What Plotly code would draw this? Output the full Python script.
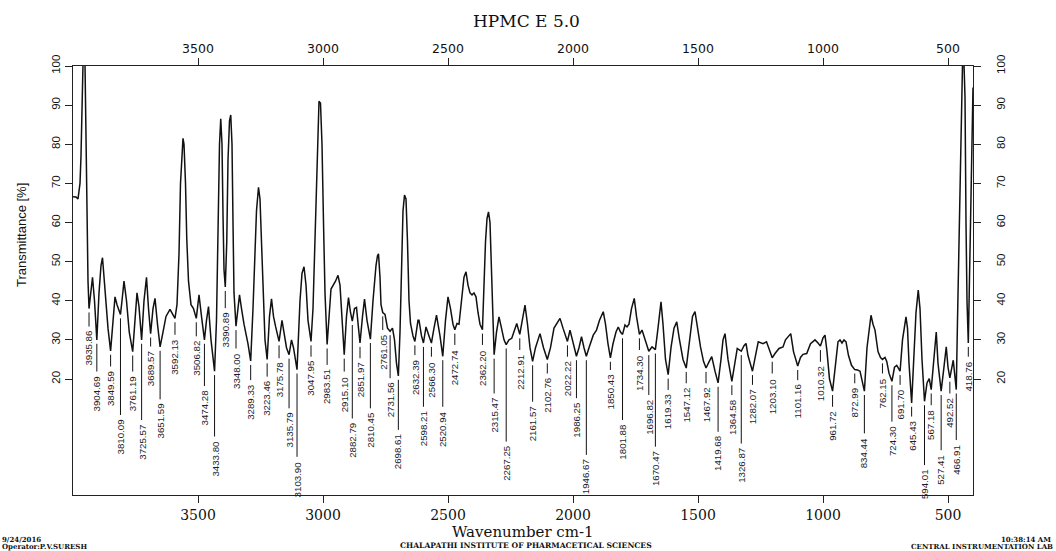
import plotly.graph_objects as go
import numpy as np

# ---------------- data ----------------
spec_wn = [4000, 3988, 3980, 3972, 3968, 3964, 3960, 3952, 3948, 3944, 3940, 3935.86, 3930, 3922, 3914,
           3904.69, 3896, 3888, 3882, 3876, 3868, 3860, 3849.59, 3840, 3832, 3824, 3816, 3810.09, 3804,
           3796, 3786, 3775, 3761.19, 3752, 3744, 3736, 3725.57, 3716, 3706, 3698, 3689.57, 3680, 3672,
           3662, 3651.59, 3640, 3628, 3612, 3600, 3592.13, 3584, 3576, 3570, 3564, 3560, 3556, 3550,
           3545, 3538, 3528, 3518, 3506.82, 3496, 3486, 3474.28, 3466, 3458, 3448, 3433.80, 3426, 3420,
           3414, 3409, 3404, 3400, 3396, 3390.89, 3385, 3380, 3374, 3369, 3364, 3360, 3356, 3348.00,
           3340, 3334, 3326, 3316, 3300, 3289.33, 3280, 3272, 3266, 3258, 3252, 3246, 3240, 3232,
           3223.46, 3214, 3206, 3198, 3190, 3175.78, 3164, 3156, 3146, 3135.79, 3126, 3118, 3103.90,
           3092, 3084, 3076, 3068, 3060, 3047.95, 3040, 3034, 3028, 3022, 3016, 3010, 3004, 2998, 2992,
           2983.51, 2976, 2968, 2950, 2940, 2932, 2924, 2915.10, 2906, 2898, 2890, 2882.79, 2874, 2866,
           2858, 2851.97, 2842, 2834, 2824, 2810.45, 2800, 2794, 2788, 2782, 2778, 2772, 2768, 2761.05,
           2752, 2742, 2731.56, 2722, 2714, 2706, 2698.61, 2692, 2686, 2680, 2674, 2668, 2662, 2656,
           2650, 2640, 2632.39, 2620, 2616, 2606, 2598.21, 2588, 2576, 2566.30, 2556, 2546, 2532,
           2520.94, 2510, 2500, 2490, 2480, 2472.74, 2464, 2456, 2446, 2436, 2428, 2420, 2412, 2404,
           2396, 2388, 2380, 2372, 2362.20, 2356, 2350, 2344, 2338, 2332, 2326, 2320, 2315.47, 2306,
           2296, 2286, 2276, 2267.25, 2256, 2245, 2225, 2212.91, 2200, 2192, 2182, 2172, 2161.57, 2150,
           2132, 2118, 2102.76, 2090, 2076, 2052, 2040, 2030, 2022.22, 2012, 2000, 1986.25, 1976, 1966,
           1956, 1946.67, 1936, 1919, 1906, 1894, 1879, 1870, 1860, 1850.43, 1840, 1828, 1819, 1810,
           1801.88, 1792, 1784, 1776, 1766, 1755, 1746, 1734.30, 1724, 1712, 1696.82, 1684, 1670.47,
           1660, 1648, 1640, 1630, 1619.33, 1608, 1596, 1585, 1575, 1560, 1547.12, 1535, 1522, 1512,
           1500, 1490, 1478, 1467.92, 1455, 1445, 1432, 1419.68, 1408, 1400, 1392, 1380, 1364.58, 1354,
           1343, 1336, 1326.87, 1316, 1308, 1300, 1282.07, 1270, 1259, 1240, 1226, 1212, 1203.10, 1192,
           1176, 1160, 1150, 1129, 1118, 1101.16, 1090, 1080, 1065, 1050, 1032, 1020, 1010.32, 1000,
           992, 984, 974, 961.72, 950, 940, 932, 924, 916, 908, 898, 886, 872.99, 862, 852, 834.44, 824,
           812, 808, 800, 792, 780, 770, 762.15, 752, 745, 736, 724.30, 714, 705, 691.70, 682, 674, 668,
           662, 656, 645.43, 636, 628, 619, 612, 604, 594.01, 584, 575, 567.18, 558, 550, 547, 540,
           527.41, 518, 507, 500, 492.52, 479, 472, 466.91, 462, 456, 450, 446, 442, 436, 432, 428, 424,
           418.76, 414, 410, 406, 402, 400]

spec_t = [66.6, 66.5, 66.0, 70.0, 77.0, 92.0, 100.5, 100.5, 80.0, 55.0, 45.0, 38.0, 41.0, 46.0, 40.0,
          30.0, 42.0, 49.0, 51.0, 46.0, 40.0, 33.0, 27.2, 36.0, 41.0, 39.0, 37.5, 36.5, 40.0,
          45.0, 40.0, 32.0, 27.0, 36.0, 42.0, 38.5, 30.0, 40.0, 46.0, 38.0, 31.6, 38.0, 40.6,
          34.0, 28.2, 32.0, 36.0, 37.8, 36.5, 35.5, 39.0, 52.0, 70.0, 79.5, 81.5, 80.0, 70.0,
          56.0, 45.0, 39.0, 38.0, 35.5, 41.5, 36.0, 30.0, 35.0, 38.5, 30.0, 22.0, 35.0, 60.0,
          80.0, 86.5, 80.0, 62.0, 48.0, 43.5, 55.0, 76.0, 86.0, 87.5, 80.0, 60.0, 42.0, 33.5,
          38.0, 41.5, 38.0, 34.0, 29.0, 24.6, 38.0, 52.0, 63.0, 69.0, 66.0, 55.0, 42.0, 30.0,
          25.0, 36.0, 40.5, 36.0, 33.5, 29.6, 35.0, 32.0, 28.0, 26.2, 30.0, 28.0, 22.4,
          40.0, 47.0, 48.7, 44.0, 35.0, 29.6, 38.0, 52.0, 70.0, 84.0, 91.0, 90.5, 80.0, 60.0, 42.0,
          28.8, 35.0, 43.0, 45.0, 46.5, 44.0, 35.0, 26.2, 36.0, 40.8, 37.0, 34.8, 38.0, 38.3,
          33.0, 29.2, 36.0, 40.4, 35.0, 30.2, 40.0, 45.0, 49.0, 51.5, 52.0, 46.0, 39.0, 37.0,
          36.5, 33.0, 32.2, 33.0, 30.0, 24.0, 20.8, 32.0, 50.0, 63.0, 67.0, 66.0, 55.0, 40.0,
          34.2, 31.0, 29.6, 35.0, 35.0, 31.0, 29.2, 33.3, 31.0, 29.2, 33.0, 36.3, 31.0,
          25.8, 35.0, 41.0, 38.0, 34.0, 32.6, 34.2, 34.0, 40.0, 46.0, 47.4, 44.0, 42.0, 41.5,
          42.0, 41.0, 37.0, 34.0, 32.6, 45.0, 55.0, 61.0, 62.7, 60.0, 48.0, 35.0, 26.2, 32.0,
          35.9, 33.0, 30.0, 28.8, 30.0, 30.4, 34.2, 31.4, 36.0, 38.9, 34.0, 28.0, 24.5, 28.0,
          31.6, 28.0, 25.0, 28.0, 33.0, 35.5, 33.0, 31.0, 29.6, 32.5, 29.0, 25.8, 28.0, 30.8,
          28.0, 25.8, 28.0, 31.2, 32.5, 35.0, 37.2, 34.0, 29.0, 25.4, 29.0, 32.0, 33.3, 32.0,
          31.4, 33.8, 33.3, 34.0, 38.0, 40.6, 36.0, 31.4, 32.5, 30.0, 27.1, 28.2, 27.5,
          33.0, 39.7, 34.0, 25.0, 21.1, 28.0, 33.0, 34.6, 30.4, 25.0, 22.8, 30.0, 36.0, 37.2,
          32.0, 28.2, 24.5, 22.8, 24.5, 25.7, 22.0, 19.0, 25.0, 30.0, 31.6, 25.0, 19.4, 24.0,
          27.8, 27.5, 27.1, 28.5, 29.1, 26.0, 22.0, 26.0, 29.5, 29.0, 29.5, 27.0, 25.4, 26.5,
          27.8, 28.2, 30.0, 31.6, 27.0, 23.3, 25.5, 26.3, 26.5, 29.0, 30.0, 29.2, 28.4, 30.5,
          31.2, 27.0, 20.0, 16.9, 24.0, 29.5, 30.0, 29.2, 30.0, 29.5, 26.0, 23.5, 22.4, 22.3, 22.0, 16.9, 28.0,
          35.0, 36.3, 34.0, 32.5, 27.0, 25.5, 25.0, 25.5, 24.5, 21.5, 19.4, 23.0, 23.5, 22.0, 30.0, 34.0, 35.9,
          33.0, 24.0, 13.9, 25.0, 37.0, 42.7, 38.0, 25.0, 14.3, 19.0, 20.1, 17.3, 24.0, 31.0, 32.0, 24.0,
          16.9, 22.0, 28.2, 23.0, 20.3, 24.8, 20.0, 17.3, 35.0, 55.0, 75.0, 86.0, 100.5, 100.5, 92.0, 60.0, 40.0,
          29.2, 45.0, 62.0, 80.0, 92.0, 94.5]

label_wn = [3935.86, 3904.69, 3849.59, 3810.09, 3761.19, 3725.57, 3689.57, 3651.59, 3592.13, 3506.82,
            3474.28, 3433.80, 3390.89, 3348.00, 3289.33, 3223.46, 3175.78, 3135.79, 3103.90, 3047.95,
            2983.51, 2915.10, 2882.79, 2851.97, 2810.45, 2761.05, 2731.56, 2698.61, 2632.39, 2598.21,
            2566.30, 2520.94, 2472.74, 2362.20, 2315.47, 2267.25, 2212.91, 2161.57, 2102.76, 2022.22,
            1986.25, 1946.67, 1850.43, 1801.88, 1734.30, 1696.82, 1670.47, 1619.33, 1547.12, 1467.92,
            1419.68, 1364.58, 1326.87, 1282.07, 1203.10, 1101.16, 1010.32, 961.72, 872.99, 834.44,
            762.15, 724.30, 691.70, 645.43, 594.01, 567.18, 527.41, 492.52, 466.91, 418.76]

x_ticks = [3500, 3000, 2500, 2000, 1500, 1000, 500]
y_ticks = [20, 30, 40, 50, 60, 70, 80, 90, 100]

title_text = "HPMC E 5.0"
x_title = "Wavenumber cm-1"
y_title = "Transmittance [%]"
footer_left = ["9/24/2016", "Operator:P.V.SURESH"]
footer_mid = "CHALAPATHI INSTITUTE OF PHARMACETICAL SCIENCES"
footer_right = ["10:38:14 AM", "CENTRAL INSTRUMENTATION LAB"]

# ---------------- layout helpers (positions / styles) ----------------
# level (in % T) at which each peak label's text starts (staggered to avoid overlaps)
label_text_top = [32.5, 21, 22.3, 9.9, 21, 8.6, 27.4, 13.9, 30.4, 30,
                  17.3, 4.4, 37.2, 26.9, 18.8, 19.7, 24.4, 11.6, -0.8, 24.8,
                  22.7, 21, 9.0, 24.4, 11.6, 31.6, 19.3, 6.1, 25.2, 12,
                  24.8, 12, 27.8, 27.8, 15.4, 3.1, 26.5, 13.3, 20.5, 24.8,
                  14.2, -0.3, 21.4, 8.6, 26.5, 15, 1.8, 16.3, 18, 18,
                  5.6, 15, 2.6, 17.6, 20.5, 18.8, 23.5, 12, 18, 5.2,
                  20.5, 8.2, 17.6, 9.5, -2.9, 12.4, 0.9, 15.4, 3.5, 24.8]

W, H = 1056, 551
PL, PR, PT, PB = 73, 973, 66, 495
X_RANGE = [4000, 400]
Y_RANGE = [-9.65, 100]
INK = "#111111"
SANS = "Liberation Sans, Arial, sans-serif"


def paper_x(px):
    return (px - PL) / (PR - PL)


def paper_y(py):
    return (PB - py) / (PB - PT)


fig = go.Figure()
fig.add_trace(go.Scatter(x=spec_wn, y=spec_t, mode="lines",
                         line=dict(color=INK, width=1.5), showlegend=False, hoverinfo="skip"))
# helper traces so the top and right axes are drawn
fig.add_trace(go.Scatter(x=X_RANGE, y=[None, None], xaxis="x2", yaxis="y", mode="lines",
                         showlegend=False, hoverinfo="skip"))
fig.add_trace(go.Scatter(x=[None, None], y=Y_RANGE, xaxis="x", yaxis="y2", mode="lines",
                         showlegend=False, hoverinfo="skip"))

wn_inc = np.array(spec_wn[::-1])
t_inc = np.array(spec_t[::-1])
troughs = np.interp(label_wn, wn_inc, t_inc)

shapes = []
annotations = []
for wn, tr, top in zip(label_wn, troughs, label_text_top):
    shapes.append(dict(type="line", xref="x", yref="y", x0=wn, x1=wn,
                       y0=min(tr, 100) - 1.0, y1=top + 0.9,
                       line=dict(color=INK, width=1)))
    annotations.append(dict(x=wn, y=top, xref="x", yref="y", text=f"{wn:.2f}",
                            textangle=-90, xanchor="center", yanchor="top",
                            showarrow=False, borderpad=0,
                            font=dict(family=SANS, size=9.7, color="#1c1c2c")))

annotations.append(dict(x=paper_x(526), y=paper_y(20.5), xref="paper", yref="paper",
                        text=title_text, showarrow=False, xanchor="center", yanchor="middle",
                        font=dict(family="DejaVu Serif", size=17, color=INK)))
annotations.append(dict(x=paper_x(523), y=paper_y(531.5), xref="paper", yref="paper",
                        text=x_title, showarrow=False, xanchor="center", yanchor="middle",
                        font=dict(family="DejaVu Serif", size=15, color=INK)))
annotations.append(dict(x=paper_x(21), y=paper_y(235), xref="paper", yref="paper",
                        text=y_title, showarrow=False, xanchor="center", yanchor="middle",
                        textangle=-90, font=dict(family=SANS, size=13, color=INK)))
foot_font = dict(family="DejaVu Serif", size=7, color=INK, weight="bold")
annotations.append(dict(x=paper_x(1), y=paper_y(539.5), xref="paper", yref="paper",
                        text=footer_left[0], showarrow=False, xanchor="left", yanchor="middle",
                        font=foot_font, borderpad=0))
annotations.append(dict(x=paper_x(1), y=paper_y(546), xref="paper", yref="paper",
                        text=footer_left[1], showarrow=False, xanchor="left", yanchor="middle",
                        font=foot_font, borderpad=0))
annotations.append(dict(x=paper_x(526), y=paper_y(545.5), xref="paper", yref="paper",
                        text=footer_mid, showarrow=False, xanchor="center", yanchor="middle",
                        font=dict(family="DejaVu Serif", size=7.6, color=INK, weight="bold"),
                        borderpad=0))
annotations.append(dict(x=paper_x(1052), y=paper_y(539.5), xref="paper", yref="paper",
                        text=footer_right[0], showarrow=False, xanchor="right", yanchor="middle",
                        font=foot_font, borderpad=0))
annotations.append(dict(x=paper_x(1054), y=paper_y(546), xref="paper", yref="paper",
                        text=footer_right[1], showarrow=False, xanchor="right", yanchor="middle",
                        font=foot_font, borderpad=0))

axis_common = dict(showgrid=False, zeroline=False, showline=True, linecolor="#222222",
                   linewidth=1.3, ticks="outside", ticklen=7, tickwidth=1.2, tickcolor="#222222")

fig.update_layout(
    width=W, height=H,
    margin=dict(l=PL, r=W - PR, t=PT, b=H - PB, pad=0),
    paper_bgcolor="white", plot_bgcolor="white",
    showlegend=False,
    xaxis=dict(range=X_RANGE, tickvals=x_ticks, ticktext=[str(v) for v in x_ticks],
               tickfont=dict(family="DejaVu Serif", size=14, color=INK), **axis_common),
    xaxis2=dict(range=X_RANGE, overlaying="x", side="top", anchor="y", tickvals=x_ticks,
                ticktext=[str(v) for v in x_ticks],
                tickfont=dict(family="DejaVu Sans", size=12.5, color=INK), **axis_common),
    yaxis=dict(range=Y_RANGE, tickvals=y_ticks, ticktext=[str(v) for v in y_ticks], tickangle=-90,
               tickfont=dict(family=SANS, size=11.5, color=INK), **axis_common),
    yaxis2=dict(range=Y_RANGE, overlaying="y", side="right", anchor="x", tickvals=y_ticks,
                ticktext=[str(v) for v in y_ticks], tickangle=-90, ticklabelstandoff=10,
                tickfont=dict(family=SANS, size=11.5, color=INK), **axis_common),
    shapes=shapes,
    annotations=annotations,
)

fig.write_html("out.html")
